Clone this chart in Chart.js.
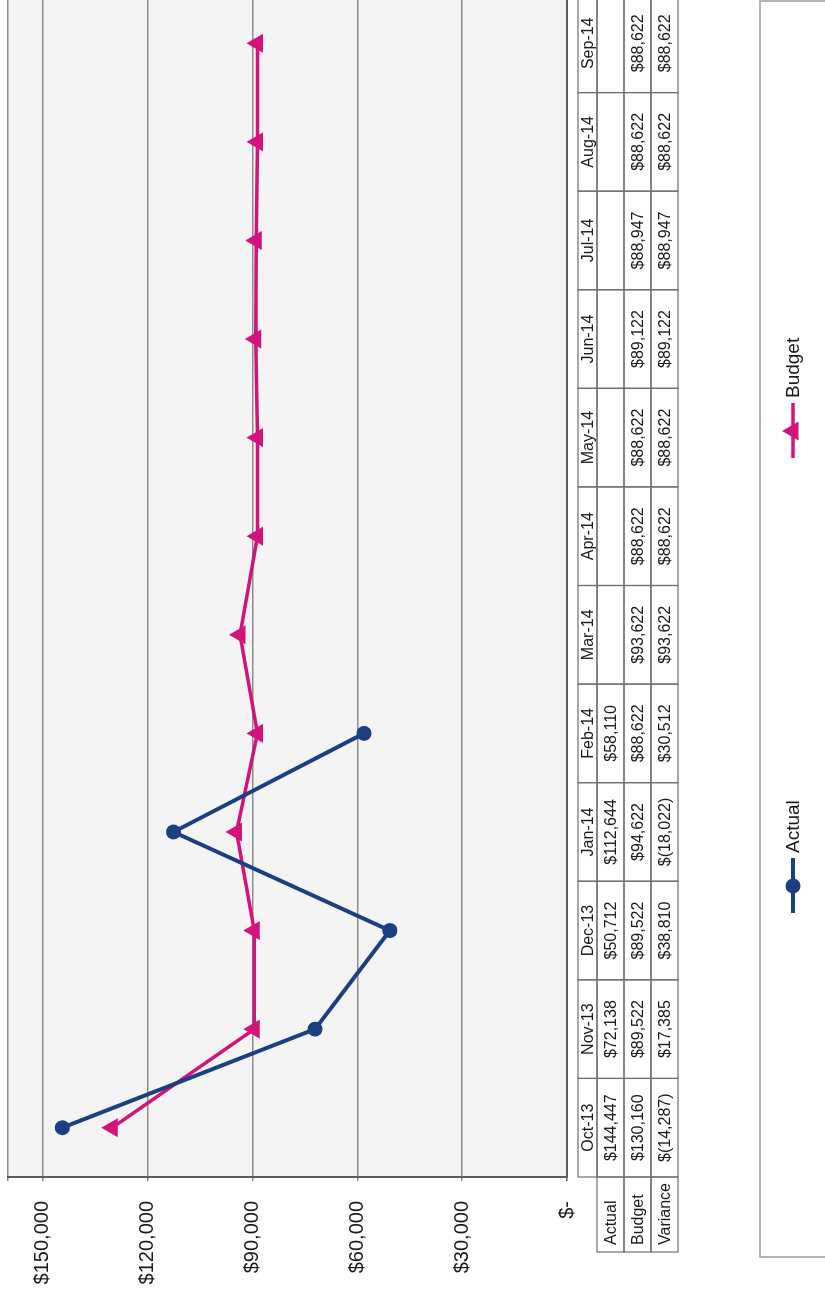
<!DOCTYPE html>
<html>
<head>
<meta charset="utf-8">
<script src="https://cdn.jsdelivr.net/npm/chart.js@4"></script>
<style>
  html, body { margin: 0; padding: 0; background: #fff; width: 825px; height: 1298px; overflow: hidden; }
  /* the chart is printed sideways: draw it landscape, then turn it */
  #wrap { position: absolute; left: 0; top: 0; width: 1304px; height: 825px;
          transform-origin: 0 0; transform: translateY(1298px) rotate(-90deg); }
</style>
</head>
<body>
<div id="wrap"><canvas id="budgetChart" width="1304" height="825"></canvas></div>
<script>
// chart data
const months = ['Oct-13','Nov-13','Dec-13','Jan-14','Feb-14','Mar-14','Apr-14','May-14','Jun-14','Jul-14','Aug-14','Sep-14'];
const actual = [144447, 72138, 50712, 112644, 58110, null, null, null, null, null, null, null];
const budget = [130160, 89522, 89522, 94622, 88622, 93622, 88622, 88622, 89122, 88947, 88622, 88622];
const variance = [-14287, 17385, 38810, -18022, 30512, 93622, 88622, 88622, 89122, 88947, 88622, 88622];
const rowNames = ['Actual', 'Budget', 'Variance'];
const yTicks = [0, 30000, 60000, 90000, 120000, 150000];

const FONT = '"Liberation Sans", Arial, sans-serif';
const BLUE = '#1b3f82';
const PINK = '#d3137b';

function money(v) {
  if (v === null || v === undefined) return '';
  if (v === 0) return '$-';
  const s = Math.abs(v).toString().replace(/\B(?=(\d{3})+(?!\d))/g, ',');
  return v < 0 ? '$(' + s + ')' : '$' + s;
}

// grey plot background
const plotBg = {
  id: 'plotBg',
  beforeDraw(chart) {
    const { ctx, chartArea: a } = chart;
    ctx.save();
    ctx.fillStyle = '#f4f4f4';
    ctx.fillRect(a.left, a.top, a.right - a.left, a.bottom - a.top);
    ctx.restore();
  }
};

// data table under the plot, columns taken from the x scale
const dataTable = {
  id: 'dataTable',
  afterDraw(chart) {
    const { ctx, chartArea: a } = chart;
    const x = chart.scales.x;
    const cell = (a.right - a.left) / months.length;
    const top = a.bottom + 11;
    const headH = 19, rowH = 27;
    const nameLeft = 46;
    const rows = [actual, budget, variance];
    ctx.save();
    ctx.strokeStyle = '#6e6e6e';
    ctx.lineWidth = 1.2;
    ctx.fillStyle = '#1a1a1a';
    ctx.font = '16px ' + FONT;
    ctx.textBaseline = 'middle';

    months.forEach((m, i) => {
      const cx = x.getPixelForValue(i);
      const l = cx - cell / 2;
      ctx.strokeRect(l, top, cell, headH);
      ctx.textAlign = 'center';
      ctx.fillText(m, cx, top + headH / 2 + 1);
      rows.forEach((r, j) => {
        const y0 = top + headH + j * rowH;
        ctx.strokeRect(l, y0, cell, rowH);
        ctx.fillText(money(r[i]), cx, y0 + rowH / 2 + 1);
      });
    });
    rowNames.forEach((n, j) => {
      const y0 = top + headH + j * rowH;
      ctx.strokeRect(nameLeft, y0, a.left - nameLeft, rowH);
      ctx.textAlign = 'left';
      ctx.fillText(n, nameLeft + 7, y0 + rowH / 2 + 1);
    });
    ctx.restore();
  }
};

// legend box with line+marker samples
const lineLegend = {
  id: 'lineLegend',
  afterDraw(chart) {
    const { ctx } = chart;
    const starts = [385, 840];
    const ly = 793;
    ctx.save();
    ctx.strokeStyle = '#9a9a9a';
    ctx.lineWidth = 1.5;
    ctx.strokeRect(41, 760, 1256, 120);
    chart.data.datasets.forEach((ds, i) => {
      const x0 = starts[i];
      ctx.strokeStyle = ds.borderColor;
      ctx.lineWidth = ds.borderWidth;
      ctx.beginPath();
      ctx.moveTo(x0, ly);
      ctx.lineTo(x0 + 55, ly);
      ctx.stroke();
      ctx.fillStyle = ds.pointBackgroundColor;
      Chart.helpers.drawPoint(ctx, { pointStyle: ds.pointStyle, radius: ds.pointRadius, rotation: 0, borderWidth: 0 }, x0 + 27, ly);
      ctx.fillStyle = '#1a1a1a';
      ctx.font = '19px ' + FONT;
      ctx.textAlign = 'left';
      ctx.textBaseline = 'middle';
      ctx.fillText(ds.label, x0 + 60, ly + 1);
    });
    ctx.restore();
  }
};

new Chart(document.getElementById('budgetChart'), {
  type: 'line',
  data: {
    labels: months,
    datasets: [
      { label: 'Actual', data: actual, borderColor: BLUE, backgroundColor: BLUE,
        pointBackgroundColor: BLUE, pointBorderColor: BLUE, pointBorderWidth: 0,
        borderWidth: 4, pointStyle: 'circle', pointRadius: 7.5, tension: 0 },
      { label: 'Budget', data: budget, borderColor: PINK, backgroundColor: PINK,
        pointBackgroundColor: PINK, pointBorderColor: PINK, pointBorderWidth: 0,
        borderWidth: 3.5, pointStyle: 'triangle', pointRadius: 11, tension: 0 }
    ]
  },
  options: {
    responsive: false, animation: false, devicePixelRatio: 1,
    layout: { autoPadding: false, padding: { top: 8, right: 0, bottom: 258, left: 0 } },
    plugins: { legend: { display: false }, tooltip: { enabled: false } },
    scales: {
      x: {
        offset: true,
        ticks: { display: false },
        grid: { display: false, drawTicks: false },
        border: { display: true, color: '#5c5c5c', width: 2 },
        afterFit: s => { s.height = 0; s.paddingLeft = 0; s.paddingRight = 0; }
      },
      y: {
        min: 0, max: 160000,
        afterBuildTicks: s => { s.ticks = yTicks.concat([160000]).map(v => ({ value: v })); },
        ticks: {
          autoSkip: false, padding: 20, color: '#1a1a1a',
          font: { family: FONT, size: 20 },
          callback: v => (yTicks.includes(v) ? money(v) : '')
        },
        grid: { color: ctx => (ctx.tick && ctx.tick.value === 0 ? '#5c5c5c' : '#8c8c8c'), lineWidth: 1.5, tickLength: 4 },
        border: { display: true, color: '#5c5c5c', width: 2 },
        afterFit: s => { s.width = 121; s.paddingTop = 0; s.paddingBottom = 0; }
      }
    }
  },
  plugins: [plotBg, dataTable, lineLegend]
});
</script>
</body>
</html>
